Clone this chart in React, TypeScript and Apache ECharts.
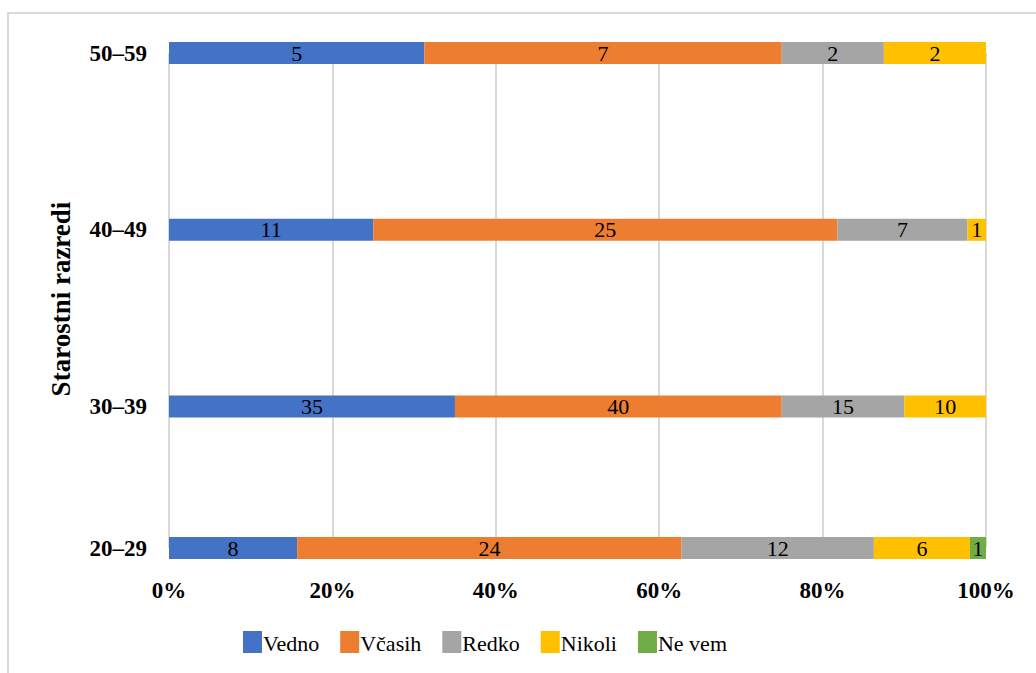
import React, { useEffect, useRef } from "react";
import * as echarts from "echarts";

const categories = ["20–29", "30–39", "40–49", "50–59"];
const seriesNames = ["Vedno", "Včasih", "Redko", "Nikoli", "Ne vem"];
const vedno = [8, 35, 11, 5];
const vcasih = [24, 40, 25, 7];
const redko = [12, 15, 7, 2];
const nikoli = [6, 10, 1, 2];
const neVem = [1, 0, 0, 0];
const xTicks = [0, 20, 40, 60, 80, 100];

// layout: slot of each category on the (uneven) vertical axis
const slots = [0, 4, 9, 14];
const slotCount = 15;

const colors = ["#4472C4", "#ED7D31", "#A5A5A5", "#FFC000", "#70AD47"];
const FONT = "Liberation Serif";

export default function App() {
  const ref = useRef<HTMLDivElement>(null);
  useEffect(() => {
    if (!ref.current) return;
    const chart = echarts.init(ref.current, undefined, { renderer: "svg" });
    const all = [vedno, vcasih, redko, nikoli, neVem];
    const totals = categories.map((_, i) => all.reduce((s, arr) => s + arr[i], 0));
    const axisData: string[] = [];
    for (let i = 0; i < slotCount; i++) {
      const k = slots.indexOf(i);
      axisData.push(k >= 0 ? categories[k] : "");
    }
    const series = all.map((arr, si) => ({
      name: seriesNames[si],
      type: "bar",
      stack: "total",
      barWidth: 22,
      itemStyle: { color: colors[si] },
      label: {
        show: true,
        position: "inside",
        color: "#000",
        fontSize: 22,
        fontFamily: FONT,
        formatter: (p: any) => (p.data.count ? String(p.data.count) : ""),
      },
      data: arr.map((v, i) => ({
        value: [(v / totals[i]) * 100, slots[i]],
        count: v,
      })),
    }));

    // legend (icon + text) laid out with measured text widths
    const ctx = document.createElement("canvas").getContext("2d")!;
    ctx.font = `22px "${FONT}"`;
    const legendEls: any[] = [];
    let lx = 243;
    const ly = 631;
    seriesNames.forEach((name, i) => {
      legendEls.push({
        type: "rect",
        shape: { x: lx, y: ly, width: 19, height: 22 },
        style: { fill: colors[i] },
      });
      legendEls.push({
        type: "text",
        x: lx + 20,
        y: ly + 12,
        style: {
          text: name,
          fontSize: 22,
          fontFamily: FONT,
          fill: "#000",
          align: "left",
          verticalAlign: "middle",
        },
      });
      lx += 20 + ctx.measureText(name).width + 21;
    });

    chart.setOption({
      animation: false,
      textStyle: { fontFamily: FONT },
      grid: { left: 169, right: 50, top: 53, bottom: 125, containLabel: false },
      xAxis: {
        type: "value",
        min: 0,
        max: 100,
        interval: 20,
        axisLine: { show: false },
        axisTick: { show: false },
        splitLine: { show: true, lineStyle: { color: "#d9d9d9", width: 2 } },
        axisLabel: {
          formatter: (v: number) => (xTicks.includes(v) ? v + "%" : ""),
          fontSize: 23,
          fontWeight: "bold",
          color: "#000",
          fontFamily: FONT,
          margin: 31,
        },
      },
      yAxis: {
        type: "category",
        data: axisData,
        boundaryGap: false,
        axisLine: { show: false },
        axisTick: { show: false },
        splitLine: { show: false },
        axisLabel: {
          interval: 0,
          fontSize: 23,
          fontWeight: "bold",
          color: "#000",
          fontFamily: FONT,
          margin: 22,
        },
      },
      legend: { show: false, data: seriesNames },
      graphic: [
        {
          type: "text",
          x: 61,
          y: 299,
          rotation: Math.PI / 2,
          style: {
            text: "Starostni razredi",
            fontSize: 27,
            fontWeight: "bold",
            fontFamily: FONT,
            fill: "#000",
            align: "center",
            verticalAlign: "middle",
          },
        },
        ...legendEls,
      ],
      series,
    });
    return () => chart.dispose();
  }, []);
  return (
    <div
      style={{
        position: "fixed",
        left: 0,
        top: 0,
        width: 1036,
        height: 673,
        overflow: "hidden",
        background: "#fff",
      }}
    >
      <div
        style={{
          position: "absolute",
          left: 7,
          top: 12,
          width: 1100,
          height: 700,
          border: "2px solid #d9d9d9",
        }}
      />
      <div ref={ref} style={{ position: "absolute", left: 0, top: 0, width: 1036, height: 673 }} />
    </div>
  );
}
